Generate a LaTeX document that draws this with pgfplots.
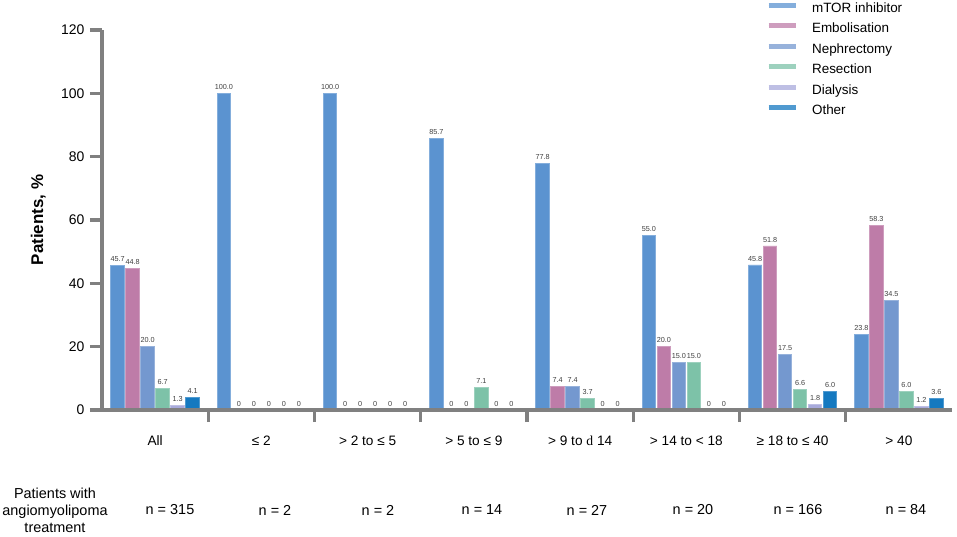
\documentclass[border=0pt]{standalone}
\usepackage{pgfplots}
\usepackage{pgfplotstable}
\pgfplotsset{compat=1.18}
\usepackage{fontspec}
\setmainfont{Liberation Sans}
\newfontfamily\seriffont{Liberation Serif}

\definecolor{cmtor}{HTML}{5B93D0}
\definecolor{cemb}{HTML}{BE7CA8}
\definecolor{cneph}{HTML}{7498CF}
\definecolor{cres}{HTML}{7DC2A8}
\definecolor{cdial}{HTML}{A8AADB}
\definecolor{coth}{HTML}{1579C0}
\definecolor{axgray}{HTML}{808080}

\pgfplotstableread{
x mtor emb neph res dial oth
0 45.7 44.8 20.0 6.7 1.3 4.1
1 100 0 0 0 0 0
2 100 0 0 0 0 0
3 85.7 0 0 7.1 0 0
4 77.8 7.4 7.4 3.7 0 0
5 55.0 20.0 15.0 15.0 0 0
6 45.8 51.8 17.5 6.6 1.8 6.0
7 23.8 58.3 34.5 6.0 1.2 3.6
}\datatable

\pgfplotsset{
  lg/.style={legend image code/.code={\draw[##1,/tikz/.cd,line width=5bp,yshift=0.35em] (0bp,0bp) -- (27bp,0bp);}}
}

\begin{document}
\begin{tikzpicture}
\path[use as bounding box] (0bp,0bp) rectangle (957bp,-537bp);
\begin{axis}[
  at={(102bp,-410bp)}, anchor=south west,
  scale only axis, width=850bp, height=380bp,
  xmin=-0.5, xmax=7.5, ymin=0, ymax=120,
  axis lines=left,
  x axis line style={-}, y axis line style={-},
  axis line style={draw=axgray, line width=3.2bp},
  axis on top,
  ybar=1.5bp, bar width=13.5bp,
  xtick={0,...,7},
  xticklabels={All, ≤ 2, > 2 to ≤ 5, > 5 to ≤ 9, {> 9 to {\seriffont d} 14}, > 14 to < 18, ≥ 18 to ≤ 40, > 40},
  minor xtick={0.5,1.5,...,6.5},
  ytick={0,20,...,120},
  tick align=outside,
  major tick length=12bp, minor tick length=12bp,
  major x tick style={draw=none},
  tick style={draw=axgray, line width=3.2bp},
  xticklabel style={font=\fontsize{13.7}{16}\selectfont, text height=10bp, text depth=3bp, yshift=-10bp},
  yticklabel style={font=\fontsize{14}{16}\selectfont, xshift=-2bp},
  /pgf/number format/assume math mode=true,
  ylabel={\textbf{Patients, \%}},
  ylabel style={at={(axis description cs:-0.075,0.5)}, anchor=center, font=\fontsize{17}{20}\selectfont},
  point meta=y,
  nodes near coords={\pgfmathfloatifflags{\pgfplotspointmeta}{0}{0}{\pgfmathprintnumber[fixed,fixed zerofill,precision=1]{\pgfplotspointmeta}}},
  every node near coord/.append style={font=\fontsize{7.3}{8}\selectfont, text=black!75, inner sep=1bp, yshift=2.5bp},
  legend style={at={(axis description cs:0.781,1.079)}, anchor=north west, draw=none, fill=none,
    font=\fontsize{13.5}{15}\selectfont, inner sep=0pt, row sep=3.5bp,
    nodes={font=\fontsize{13.5}{15}\selectfont, text height=10bp, text depth=3bp, inner sep=2bp},
    /tikz/every odd column/.append style={column sep=12bp}},
  legend cell align=left,
  clip=false,
]
\addplot[fill=cmtor, draw=cmtor!75!white, line width=0.8bp, lg] table[x=x, y=mtor] {\datatable};
\addlegendentry{mTOR inhibitor}
\addplot[fill=cemb, draw=cemb!75!white, line width=0.8bp, lg] table[x=x, y=emb] {\datatable};
\addlegendentry{Embolisation}
\addplot[fill=cneph, draw=cneph!75!white, line width=0.8bp, lg] table[x=x, y=neph] {\datatable};
\addlegendentry{Nephrectomy}
\addplot[fill=cres, draw=cres!75!white, line width=0.8bp, lg] table[x=x, y=res] {\datatable};
\addlegendentry{Resection}
\addplot[fill=cdial, draw=cdial!75!white, line width=0.8bp, lg] table[x=x, y=dial] {\datatable};
\addlegendentry{Dialysis}
\addplot[fill=coth, draw=coth!75!white, line width=0.8bp, lg] table[x=x, y=oth] {\datatable};
\addlegendentry{Other}
\end{axis}
\node[align=center, font=\fontsize{14.5}{17}\selectfont] at (55bp,-510bp) {Patients with\\angiomyolipoma\\treatment};
\foreach \px/\t in {170/315, 275/2, 378/2, 482/14, 587/27, 693/20, 798/166, 906/84}
  \node[font=\fontsize{14.5}{17}\selectfont] at (\px bp,-510bp) {n = \t};
\end{tikzpicture}
\end{document}
